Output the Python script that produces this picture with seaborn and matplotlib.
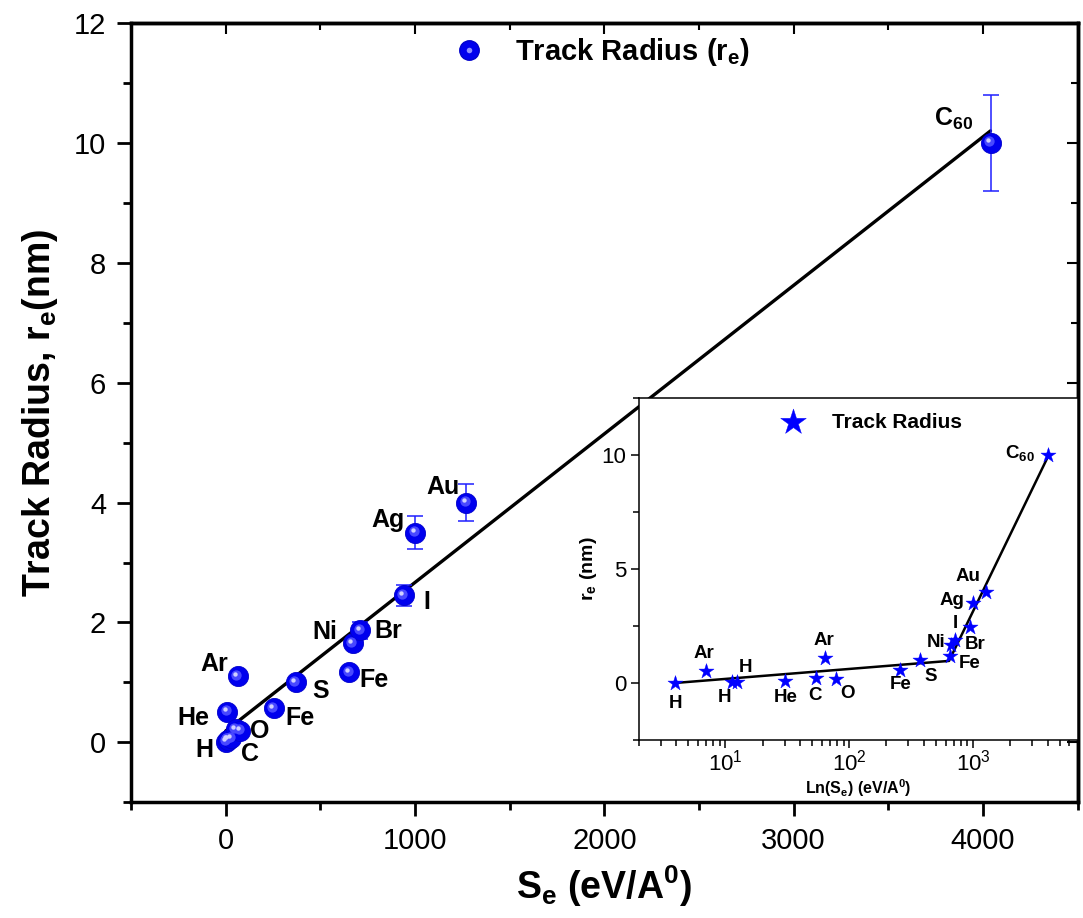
import numpy as np
import matplotlib
matplotlib.use('Agg')
import matplotlib.pyplot as plt
import seaborn as sns
from matplotlib.ticker import MultipleLocator, LogLocator, NullFormatter
from matplotlib.transforms import offset_copy
from matplotlib.lines import Line2D

# ---- data ----
ions = ['H', 'Ar', 'H', 'H', 'He', 'C', 'Ar', 'O', 'Fe', 'S', 'Fe', 'Ni', 'Br', 'I', 'Ag', 'Au', 'C60']
se = [3.9, 6.9, 11.2, 12.4, 30.5, 54, 64, 78, 255, 370, 653, 670, 710, 940, 1000, 1270, 4040]
re = [0.01, 0.51, 0.04, 0.04, 0.07, 0.22, 1.1, 0.19, 0.57, 1.0, 1.17, 1.65, 1.87, 2.45, 3.5, 4.0, 10.0]
re_err = [0, 0, 0, 0, 0, 0, 0, 0, 0, 0, 0.03, 0.06, 0.14, 0.18, 0.28, 0.31, 0.8]

# linear fit (main) and two-segment fit (inset)
fit_x = [0, 4040]
fit_y = [0.19, 10.2]
inset_fit_x = [3.9, 640, 4040]
inset_fit_y = [0.0, 0.97, 9.95]

# label annotations
main_lbl = ['H', 'C', 'O', 'He', 'Ar', 'Fe', 'S', 'Fe', 'Ni', 'Br', 'I', 'Ag', 'Au', r'C$_{60}$']
main_lx = [-115, 131, 180, -173, -58, 393, 502, 781, 525, 861, 1065, 856, 1147, 3846]
main_ly = [-0.13, -0.19, 0.19, 0.40, 1.30, 0.41, 0.86, 1.04, 1.84, 1.86, 2.34, 3.71, 4.26, 10.4]

ins_lbl = ['H', 'Ar', 'H', 'H', 'He', 'C', 'Ar', 'O', 'Fe', 'S', 'Fe', 'Ni', 'Br', 'I', 'Ag', 'Au', r'C$_{60}$']
ins_lx = [3.95, 6.68, 9.88, 14.5, 30.5, 52.5, 62.1, 97.5, 258, 458, 946, 500, 1045, 716, 673, 906, 2393]
ins_ly = [-0.91, 1.29, -0.62, 0.70, -0.62, -0.54, 1.88, -0.44, -0.07, 0.29, 0.85, 1.80, 1.69, 2.61, 3.64, 4.69, 10.09]

sns.set_theme(style='ticks')
plt.rcParams['font.family'] = ['Liberation Sans', 'DejaVu Sans']
plt.rcParams['mathtext.default'] = 'regular'
for k in ['text.color', 'axes.labelcolor', 'xtick.color', 'ytick.color', 'axes.edgecolor']:
    plt.rcParams[k] = 'black'

fig = plt.figure(figsize=(10.83, 9.18), dpi=100)
ax = fig.add_axes([0.121, 0.126, 0.874, 0.849])

# main plot
ax.plot(fit_x, fit_y, color='black', lw=2.4, zorder=2)
ax.errorbar(se, re, yerr=re_err, fmt='none', ecolor='#1f1fff', elinewidth=1.1,
            capsize=6, capthick=1.1, zorder=3)
sns.scatterplot(x=se, y=re, ax=ax, s=210, color='#0000ee', edgecolor='#0000cc',
                linewidth=0.6, zorder=4)
hl1 = offset_copy(ax.transData, fig=fig, x=-1.5, y=1.5, units='dots')
ax.scatter(se, re, s=55, color='#4848ff', linewidth=0, transform=hl1, zorder=5)
hl2 = offset_copy(ax.transData, fig=fig, x=-2.5, y=2.5, units='dots')
ax.scatter(se, re, s=10, color='#d0d0ff', linewidth=0, transform=hl2, zorder=6)

for t, x, y in zip(main_lbl, main_lx, main_ly):
    ax.text(x, y, t, fontsize=18, fontweight='bold', ha='center', va='center', zorder=7)

ax.set_xlim(-500, 4500)
ax.set_ylim(-1, 12)
ax.xaxis.set_major_locator(MultipleLocator(1000))
ax.xaxis.set_minor_locator(MultipleLocator(500))
ax.yaxis.set_major_locator(MultipleLocator(2))
ax.yaxis.set_minor_locator(MultipleLocator(1))
ax.tick_params(which='major', direction='out', length=10, width=2, labelsize=21, pad=8)
ax.tick_params(which='minor', direction='out', length=6, width=2)
for s in ax.spines.values():
    s.set_linewidth(2.5)
sec = ax.secondary_xaxis('top')
sec.xaxis.set_major_locator(MultipleLocator(1000))
sec.xaxis.set_minor_locator(MultipleLocator(500))
sec.tick_params(which='major', direction='in', length=8, width=1.5, labeltop=False)
sec.tick_params(which='minor', direction='in', length=5, width=1.5)
sec.spines['top'].set_linewidth(2.5)
secy = ax.secondary_yaxis('right')
secy.yaxis.set_major_locator(MultipleLocator(2))
secy.yaxis.set_minor_locator(MultipleLocator(1))
secy.tick_params(which='major', direction='in', length=8, width=1.5, labelright=False)
secy.tick_params(which='minor', direction='in', length=5, width=1.5)
secy.spines['right'].set_linewidth(2.5)

ax.set_xlabel(r'S$_e$ (eV/A$^0$)', fontsize=27, fontweight='bold', labelpad=6)
ax.set_ylabel(r'Track Radius, r$_e$(nm)', fontsize=27, fontweight='bold', labelpad=10)

sphere = (Line2D([], [], ls='none', marker='o', ms=14, color='#0000ee', mec='#0000cc'),
          Line2D([], [], ls='none', marker='o', ms=4, color='#9090ff', mec='none'))
ax.legend([sphere], [r'Track Radius (r$_e$)'], loc='center', bbox_to_anchor=(0.49, 0.963),
          frameon=False, prop={'size': 21, 'weight': 'bold'}, handletextpad=0.6)

# inset
ins = fig.add_axes([0.590, 0.194, 0.405, 0.372])
ins.set_facecolor('white')
ins.plot(inset_fit_x, inset_fit_y, color='black', lw=1.8, zorder=2)
sns.scatterplot(x=se, y=re, ax=ins, marker='*', s=130, color='#0000ff', edgecolor='#0000ff',
                linewidth=0.3, zorder=4, label='Track Radius')
for t, x, y in zip(ins_lbl, ins_lx, ins_ly):
    ins.text(x, y, t, fontsize=13.5, fontweight='bold', ha='center', va='center', zorder=5)
ins.set_xscale('log')
ins.set_xlim(2, 7000)
ins.set_ylim(-2.5, 12.5)
ins.yaxis.set_major_locator(MultipleLocator(5))
ins.yaxis.set_minor_locator(MultipleLocator(2.5))
ins.xaxis.set_major_locator(LogLocator(base=10))
ins.xaxis.set_minor_locator(LogLocator(base=10, subs=np.arange(2, 10)))
ins.xaxis.set_minor_formatter(NullFormatter())
ins.tick_params(which='major', direction='out', length=6, width=1.1, labelsize=16, pad=3)
ins.tick_params(axis='x', which='major', pad=1)
ins.tick_params(which='minor', direction='out', length=4, width=1.1)
for s in ins.spines.values():
    s.set_linewidth(1.1)
ins.set_ylabel(r'r$_e$ (nm)', fontsize=14, fontweight='bold', labelpad=2)
ins.set_xlabel(r'Ln(S$_e$) (eV/A$^0$)', fontsize=11.5, fontweight='bold', labelpad=1.5)
ins.legend(loc='center', bbox_to_anchor=(0.52, 0.93), frameon=False, markerscale=1.7,
           prop={'size': 15, 'weight': 'bold'}, handletextpad=0.9)

fig.savefig('out.png', dpi=100)
